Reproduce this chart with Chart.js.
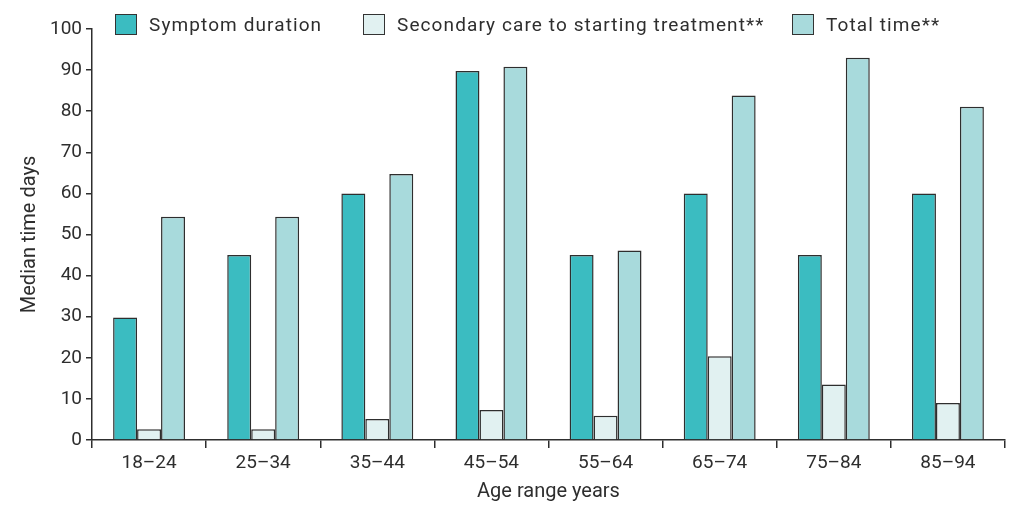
<!DOCTYPE html>
<html>
<head>
<meta charset="utf-8">
<script src="https://cdn.jsdelivr.net/npm/chart.js@4/dist/chart.umd.min.js"></script>
<style>
    html, body { margin: 0; padding: 0; background: #fff; }
    #wrap { position: relative; width: 1011px; height: 505px; }
    #legend { position: absolute; left: 0; top: 0; width: 1011px; height: 40px; font-family: Roboto, sans-serif; font-size: 19px; letter-spacing: 1.1px; color: #2e2e2e; }
    .item { position: absolute; top: 13px; display: flex; align-items: center; white-space: nowrap; }
    .box { width: 20px; height: 19px; border: 1.5px solid #333; margin-right: 12px; }
</style>
</head>
<body>
<div id="wrap">
    <canvas id="barChart"></canvas>
    <div id="legend"></div>
</div>
<script>
// 数据
const ageRanges = ['18–24', '25–34', '35–44', '45–54', '55–64', '65–74', '75–84', '85–94'];
const symptomDuration = [29.8, 45, 60, 89.8, 45, 60, 45, 60];
const secondaryCare = [2.6, 2.6, 5.1, 7.3, 5.9, 20.4, 13.5, 9.0];
const totalTime = [54.3, 54.3, 64.7, 90.8, 46.1, 83.8, 93.0, 81.1];
const seriesNames = ['Symptom duration', 'Secondary care to starting treatment**', 'Total time**'];

const FONT = 'Roboto, sans-serif';
const INK = '#2e2e2e';

const ctx = document.getElementById('barChart');
const chart = new Chart(ctx.getContext('2d'), {
    type: 'bar',
    data: {
        labels: ageRanges,
        datasets: [
            { label: seriesNames[0], data: symptomDuration, backgroundColor: '#3bbcc1' },
            { label: seriesNames[1], data: secondaryCare, backgroundColor: '#e1f1f1' },
            { label: seriesNames[2], data: totalTime, backgroundColor: '#a8dadc' }
        ].map(d => Object.assign(d, { borderColor: INK, borderWidth: 1.5, categoryPercentage: 0.63, barPercentage: 1 }))
    },
    options: {
        responsive: true,
        maintainAspectRatio: false,
        animation: false,
        layout: { padding: { top: 29, right: 6, left: 0, bottom: 0 } },
        plugins: { legend: { display: false }, tooltip: { enabled: false } },
        scales: {
            x: {
                offset: true,
                border: { color: INK, width: 1.5 },
                grid: { offset: true, drawOnChartArea: false, drawTicks: true, tickLength: 8, color: INK, lineWidth: 1.5 },
                ticks: { color: INK, font: { family: FONT, size: 19 }, padding: 4, maxRotation: 0 },
                title: { display: true, text: 'Age range years', color: INK, font: { family: FONT, size: 20 }, padding: { top: 0, bottom: 1 } },
                afterFit: s => { s.height = 65; }
            },
            y: {
                min: 0,
                max: 100,
                border: { color: INK, width: 1.5 },
                grid: { drawOnChartArea: false, drawTicks: true, tickLength: 6, color: INK, lineWidth: 1.5 },
                ticks: { stepSize: 10, color: INK, font: { family: FONT, size: 19 }, padding: 4 },
                title: { display: true, text: 'Median time days', color: INK, font: { family: FONT, size: 20 }, padding: { top: 18, bottom: 0 } },
                afterFit: s => { s.width = 92; }
            }
        }
    }
});

// 图例
const legendLeft = [115, 363, 792];
const legendEl = document.getElementById('legend');
chart.data.datasets.forEach((ds, i) => {
    const item = document.createElement('div');
    item.className = 'item';
    item.style.left = legendLeft[i] + 'px';
    const box = document.createElement('span');
    box.className = 'box';
    box.style.background = ds.backgroundColor;
    const txt = document.createElement('span');
    txt.textContent = ds.label;
    item.appendChild(box);
    item.appendChild(txt);
    legendEl.appendChild(item);
});
</script>
</body>
</html>
